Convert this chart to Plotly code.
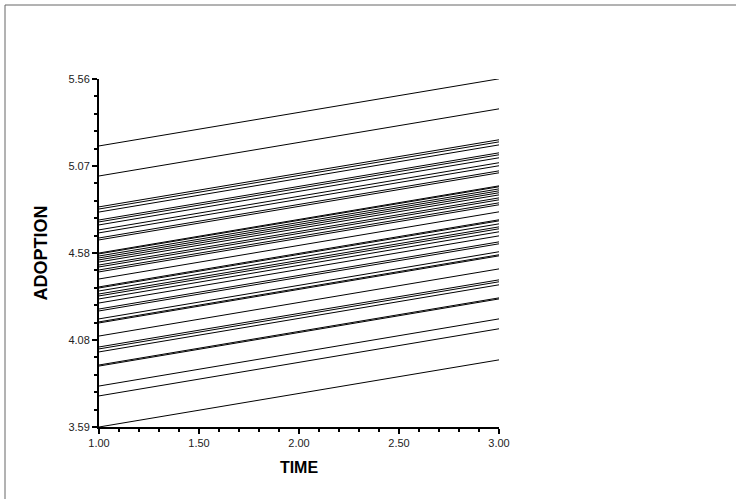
import plotly.graph_objects as go

# Measurement occasions
time_points = [1.00, 3.00]

# Predicted ADOPTION for each case at TIME = 1 and TIME = 3
adoption_t1 = [5.181, 5.011, 4.836, 4.824, 4.807, 4.762, 4.751, 4.734, 4.706, 4.689,
               4.660, 4.649, 4.575, 4.570, 4.558, 4.547, 4.536, 4.524, 4.507, 4.496,
               4.479, 4.468, 4.428, 4.383, 4.377, 4.360, 4.343, 4.332, 4.315, 4.292,
               4.258, 4.247, 4.202, 4.185, 4.179, 4.105, 4.043, 4.032, 4.015, 3.941,
               3.935, 3.822, 3.766, 3.590]
adoption_t3 = [5.561, 5.391, 5.216, 5.204, 5.187, 5.142, 5.131, 5.114, 5.086, 5.069,
               5.040, 5.029, 4.955, 4.950, 4.938, 4.927, 4.916, 4.904, 4.887, 4.876,
               4.859, 4.848, 4.808, 4.763, 4.757, 4.740, 4.723, 4.712, 4.695, 4.672,
               4.638, 4.627, 4.582, 4.565, 4.559, 4.485, 4.423, 4.412, 4.395, 4.321,
               4.315, 4.202, 4.146, 3.970]

# Axis ticks
x_tickvals = [1.0, 1.5, 2.0, 2.5, 3.0]
x_ticktext = ["1.00", "1.50", "2.00", "2.50", "3.00"]
y_tickvals = [3.59, 4.0825, 4.575, 5.0675, 5.56]
y_ticktext = ["3.59", "4.08", "4.58", "5.07", "5.56"]

fig = go.Figure()
for a, b in zip(adoption_t1, adoption_t3):
    fig.add_trace(go.Scatter(
        x=time_points, y=[a, b], mode="lines",
        line=dict(color="black", width=1),
        showlegend=False, hoverinfo="skip",
    ))

axis_font = dict(family="Liberation Sans, Arial, sans-serif", size=11, color="#222222")
title_family = "Liberation Sans, Arial, sans-serif"

fig.update_layout(
    width=736, height=499,
    margin=dict(l=99, r=237, t=79, b=72),
    paper_bgcolor="white", plot_bgcolor="white",
    xaxis=dict(
        range=[1, 3], tickvals=x_tickvals, ticktext=x_ticktext,
        showgrid=False, zeroline=False,
        showline=True, linecolor="black", linewidth=2,
        ticks="outside", ticklen=5, tickwidth=2, tickcolor="black",
        tickfont=axis_font,
        minor=dict(ticks="outside", tick0=1.0, dtick=0.1, ticklen=3,
                   tickwidth=2, tickcolor="black", showgrid=False),
        title=dict(text="<b>TIME</b>",
                   font=dict(family=title_family, size=16, color="black"),
                   standoff=14),
    ),
    yaxis=dict(
        range=[3.59, 5.56], tickvals=y_tickvals, ticktext=y_ticktext,
        showgrid=False, zeroline=False,
        showline=True, linecolor="black", linewidth=2,
        ticks="outside", ticklen=5, tickwidth=2, tickcolor="black",
        tickfont=axis_font,
        minor=dict(ticks="outside", tick0=3.59, dtick=0.0985, ticklen=3,
                   tickwidth=2, tickcolor="black", showgrid=False),
        title=dict(text="<b>ADOPTION</b>",
                   font=dict(family=title_family, size=18, color="black"),
                   standoff=16),
    ),
    shapes=[
        # outer frame (top and left edges)
        dict(type="line", xref="paper", yref="paper",
             x0=-0.235, x1=1.6, y0=1.2126, y1=1.2126,
             line=dict(color="#666666", width=1)),
        dict(type="line", xref="paper", yref="paper",
             x0=-0.235, x1=-0.235, y0=1.2126, y1=-0.25,
             line=dict(color="#666666", width=1)),
    ],
)

fig.write_html("out.html")
